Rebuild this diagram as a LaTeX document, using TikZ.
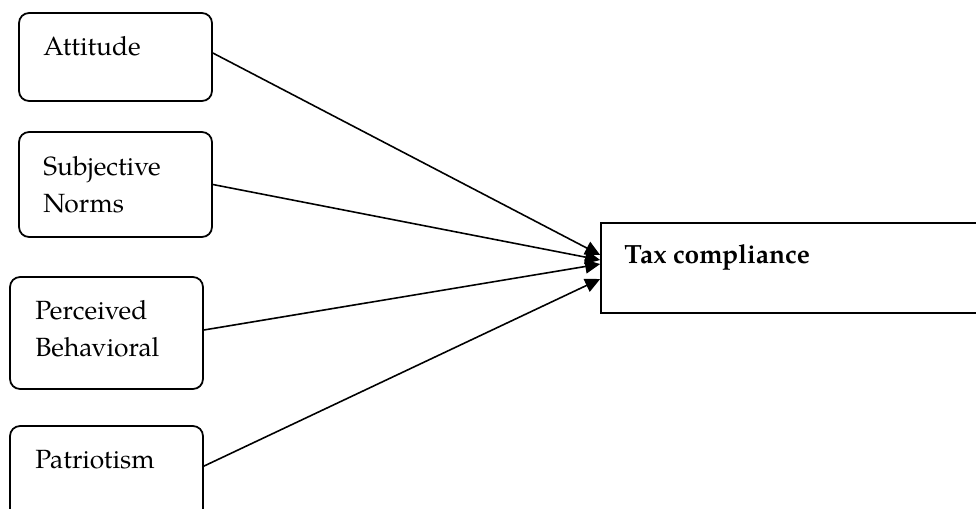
\documentclass[tikz,border=0pt]{standalone}
\usepackage{fontspec}
\setmainfont{TeX Gyre Pagella}
\usepackage{tikz, xcolor}
\usetikzlibrary{arrows.meta}

\tikzset{
  box/.style={draw, line width=1pt, rounded corners=0.2cm, inner sep=0pt,
    minimum width=3.86cm},
  lbl/.style={anchor=base west, align=left, inner sep=0pt,
    font=\fontsize{15}{20.5}\selectfont},
  arr/.style={line width=0.9pt, -{Triangle[length=0.3cm, width=0.28cm]}}
}

\begin{document}
\begin{tikzpicture}[x=0.02cm, y=-0.02cm]
  \useasboundingbox (0, 0) rectangle (976, 508);

  % factor boxes
  \node [box, minimum height=1.76cm] (att) at (115.5, 57) {};
  \node [box, minimum height=2.1cm] (sub) at (115.5, 184.5) {};
  \node [box, minimum height=2.24cm] (per) at (106.5, 333) {};
  \node [box, minimum height=2.08cm] (pat) at (106.5, 478) {};
  \node [lbl] (att-t) at (43, 55) {Attitude};
  \node [lbl] (sub-t) at (43, 212) {Subjective\\Norms};
  \node [lbl] (per-t) at (35, 356) {Perceived\\Behavioral};
  \node [lbl] (pat-t) at (35, 468) {Patriotism};

  % outcome
  \node [draw, line width=1pt, minimum width=8.4cm, minimum height=1.8cm] (tax) at (811, 268) {};
  \node [lbl, font=\fontsize{15}{20.5}\selectfont\bfseries] (tax-t) at (624, 263) {Tax compliance};

  \draw [arr] ([yshift=0.08cm]att.east) to ([yshift=0.26cm]tax.west);
  \draw [arr] (sub.east) to ([yshift=0.16cm]tax.west);
  \draw [arr] ([yshift=0.06cm]per.east) to ([yshift=0.08cm]tax.west);
  \draw [arr] ([yshift=-0.82cm]pat.north east) to ([yshift=-0.22cm]tax.west);
\end{tikzpicture}
\end{document}
